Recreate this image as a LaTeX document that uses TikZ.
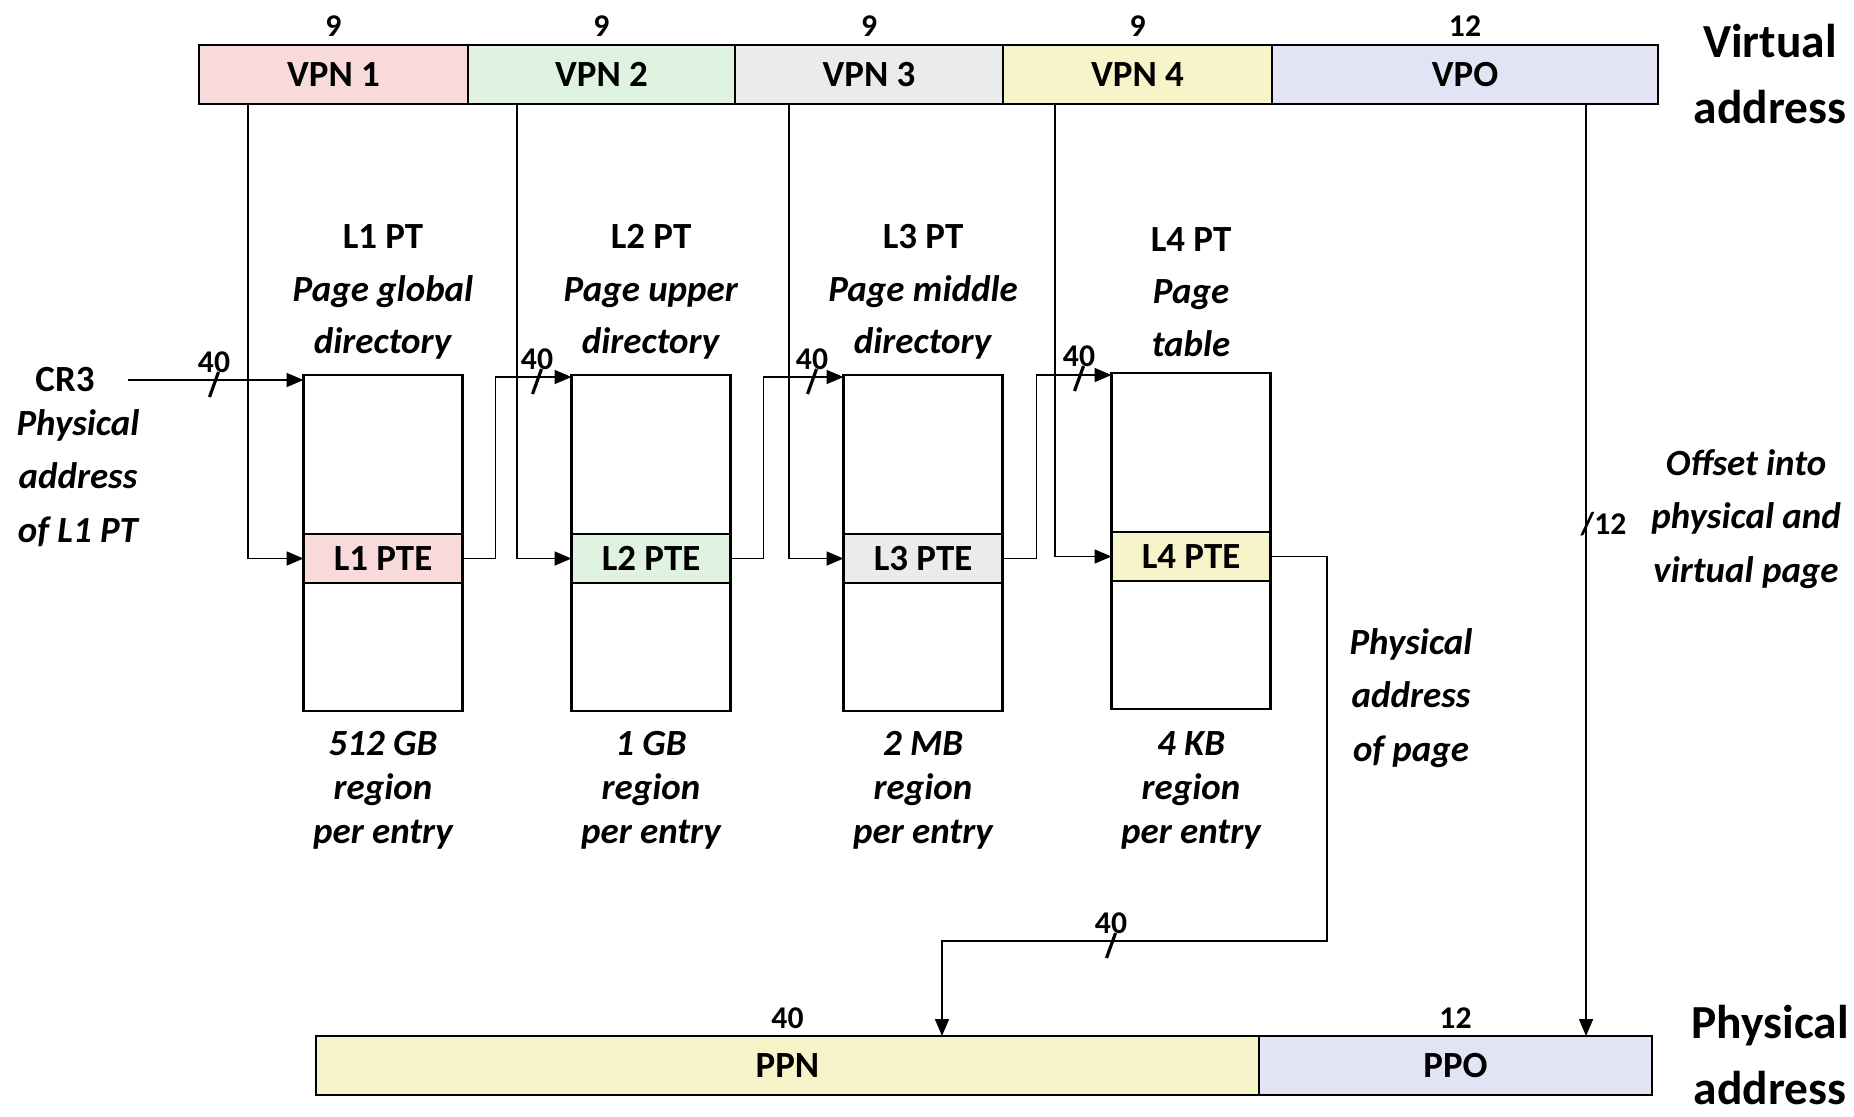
\documentclass[tikz,border=0pt]{standalone}
\usepackage{fontspec}
\setmainfont{Carlito}
\usepackage{xcolor}
\usetikzlibrary{positioning, arrows.meta}

\definecolor{vpnpink}{HTML}{F8DADB}
\definecolor{vpngreen}{HTML}{E0F3E1}
\definecolor{vpngray}{HTML}{EBEBEB}
\definecolor{vpnyellow}{HTML}{F7F4C9}
\definecolor{offlav}{HTML}{E2E4F6}

\tikzset{
  field/.style={draw, line width=0.8pt, minimum height=0.59cm, inner sep=0pt, outer sep=0pt,
                font=\fontsize{10.5}{12}\selectfont\bfseries},
  ptable/.style={draw, line width=0.6pt, minimum width=1.59cm, minimum height=3.36cm,
                 inner sep=0pt, outer sep=0pt},
  pte/.style={draw, line width=0.6pt, minimum width=1.59cm, minimum height=0.49cm,
              inner sep=0pt, outer sep=0pt, font=\fontsize{10.5}{12}\selectfont\bfseries},
  bits/.style={inner sep=0pt, font=\fontsize{9}{10}\selectfont\bfseries},
  head/.style={align=center, inner sep=0pt, font=\fontsize{10.5}{14.9}\selectfont\bfseries},
  region/.style={align=center, inner sep=0pt, font=\fontsize{10.5}{12.5}\selectfont\bfseries\itshape},
  note/.style={align=center, inner sep=0pt, font=\fontsize{10.5}{15.2}\selectfont\bfseries\itshape},
  big/.style={align=center, inner sep=0pt, font=\fontsize{13.5}{18.5}\selectfont\bfseries},
  link/.style={line width=0.5pt},
  arr/.style={line width=0.5pt, -{Triangle[length=0.17cm, width=0.14cm]}},
  buswidth/.pic={
    \draw[line width=0.9pt] (0.045,-0.08) -- (-0.045,0.17);
    \node[bits] (-w) at (0,-0.18) {\tikzpictext};
  }
}

\begin{document}
\begin{tikzpicture}[x=1cm, y=-1cm]
        \useasboundingbox (0,0) rectangle (18.54,11.16);

        % Virtual address
        \node[field, fill=vpnpink, minimum width=2.69cm] (vpn1) at (3.335,0.745) {VPN 1};
        \node[field, fill=vpngreen, minimum width=2.67cm, anchor=west] (vpn2) at (vpn1.east) {VPN 2};
        \node[field, fill=vpngray, minimum width=2.68cm, anchor=west] (vpn3) at (vpn2.east) {VPN 3};
        \node[field, fill=vpnyellow, minimum width=2.69cm, anchor=west] (vpn4) at (vpn3.east) {VPN 4};
        \node[field, fill=offlav, minimum width=3.86cm, anchor=west] (vpo) at (vpn4.east) {VPO};

        \node[bits] (w1) at ([yshift=0.19cm]vpn1.north) {9};
        \node[bits] (w2) at ([yshift=0.19cm]vpn2.north) {9};
        \node[bits] (w3) at ([yshift=0.19cm]vpn3.north) {9};
        \node[bits] (w4) at ([yshift=0.19cm]vpn4.north) {9};
        \node[bits] (w5) at ([yshift=0.19cm]vpo.north) {12};
        \node[big] (valabel) at (17.70,0.74) {Virtual\\address};

        % Page tables
        \node[ptable] (t1) at (3.83,5.43) {};
        \node[ptable] (t2) at (6.51,5.43) {};
        \node[ptable] (t3) at (9.23,5.43) {};
        \node[ptable] (t4) at (11.91,5.41) {};
        \node[pte, fill=vpnpink] (pte1) at (3.83,5.585) {L1 PTE};
        \node[pte, fill=vpngreen] (pte2) at (6.51,5.585) {L2 PTE};
        \node[pte, fill=vpngray] (pte3) at (9.23,5.585) {L3 PTE};
        \node[pte, fill=vpnyellow] (pte4) at (11.91,5.565) {L4 PTE};

        \node[head] (h1) at ([yshift=2.51cm]t1.center) {L1 PT\\\textit{Page global}\\\textit{directory}};
        \node[head] (h2) at ([yshift=2.51cm]t2.center) {L2 PT\\\textit{Page upper}\\\textit{directory}};
        \node[head] (h3) at ([yshift=2.51cm]t3.center) {L3 PT\\\textit{Page middle}\\\textit{directory}};
        \node[head] (h4) at ([yshift=2.49cm]t4.center) {L4 PT\\\textit{Page}\\\textit{table}};

        \node[region] (r1) at ([yshift=-2.47cm]t1.center) {512 GB\\region\\per entry};
        \node[region] (r2) at ([yshift=-2.47cm]t2.center) {1 GB\\region\\per entry};
        \node[region] (r3) at ([yshift=-2.47cm]t3.center) {2 MB\\region\\per entry};
        \node[region] (r4) at ([yshift=-2.49cm]t4.center) {4 KB\\region\\per entry};

        % Side notes
        \node[head] (cr3) at (0.65,3.80) {CR3};
        \node[note] (cr3note) at (0.78,4.78) {Physical\\address\\of L1 PT};
        \node[note] (pagenote) at (14.11,6.98) {Physical\\address\\of page};
        \node[note] (offnote) at (17.46,5.19) {Offset into\\physical and\\virtual page};

        % Physical address
        \node[field, fill=vpnyellow, minimum width=9.43cm] (ppn) at (7.875,10.655) {PPN};
        \node[field, fill=offlav, minimum width=3.93cm, anchor=west] (ppo) at (ppn.east) {PPO};
        \node[bits] (w6) at ([yshift=0.18cm]ppn.north) {40};
        \node[bits] (w7) at ([yshift=0.18cm]ppo.north) {12};
        \node[big] (palabel) at (17.70,10.55) {Physical\\address};

        % Edges
        \draw[arr] ([xshift=0.33cm]cr3.east) -- (cr3.east -| t1.west);
        \draw[arr] ([xshift=0.49cm]vpn1.south west) |- (pte1.west);
        \draw[arr] ([xshift=0.49cm]vpn2.south west) |- (pte2.west);
        \draw[arr] ([xshift=0.54cm]vpn3.south west) |- (pte3.west);
        \draw[arr] ([xshift=0.52cm]vpn4.south west) |- (pte4.west);
        \draw[arr] (pte1.east) -- ++(0.33,0) |- ([yshift=-0.02cm]t2.north west);
        \draw[arr] (pte2.east) -- ++(0.33,0) |- ([yshift=-0.02cm]t3.north west);
        \draw[arr] (pte3.east) -- ++(0.34,0) |- ([yshift=-0.02cm]t4.north west);

        \coordinate (pagebend) at (13.27,9.41);
        \draw[arr] (pte4.east) -| (pagebend) -| ([xshift=1.545cm]ppn.north);
        \coordinate (vpotap) at ([xshift=1.21cm]vpo.south);
        \draw[arr] (vpotap) -- (vpotap |- ppo.north);

        % Bus widths
        \pic[pic text=40] (bus0) at (2.14,3.80) {buswidth};
        \pic[pic text=40] (bus1) at (5.37,3.77) {buswidth};
        \pic[pic text=40] (bus2) at (8.12,3.77) {buswidth};
        \pic[pic text=40] (bus3) at (10.79,3.74) {buswidth};
        \pic[pic text=40] (bus4) at (11.11,9.41) {buswidth};
        \node[bits, anchor=west] (w8) at (15.80,5.24) {/12};

\end{tikzpicture}
\end{document}
